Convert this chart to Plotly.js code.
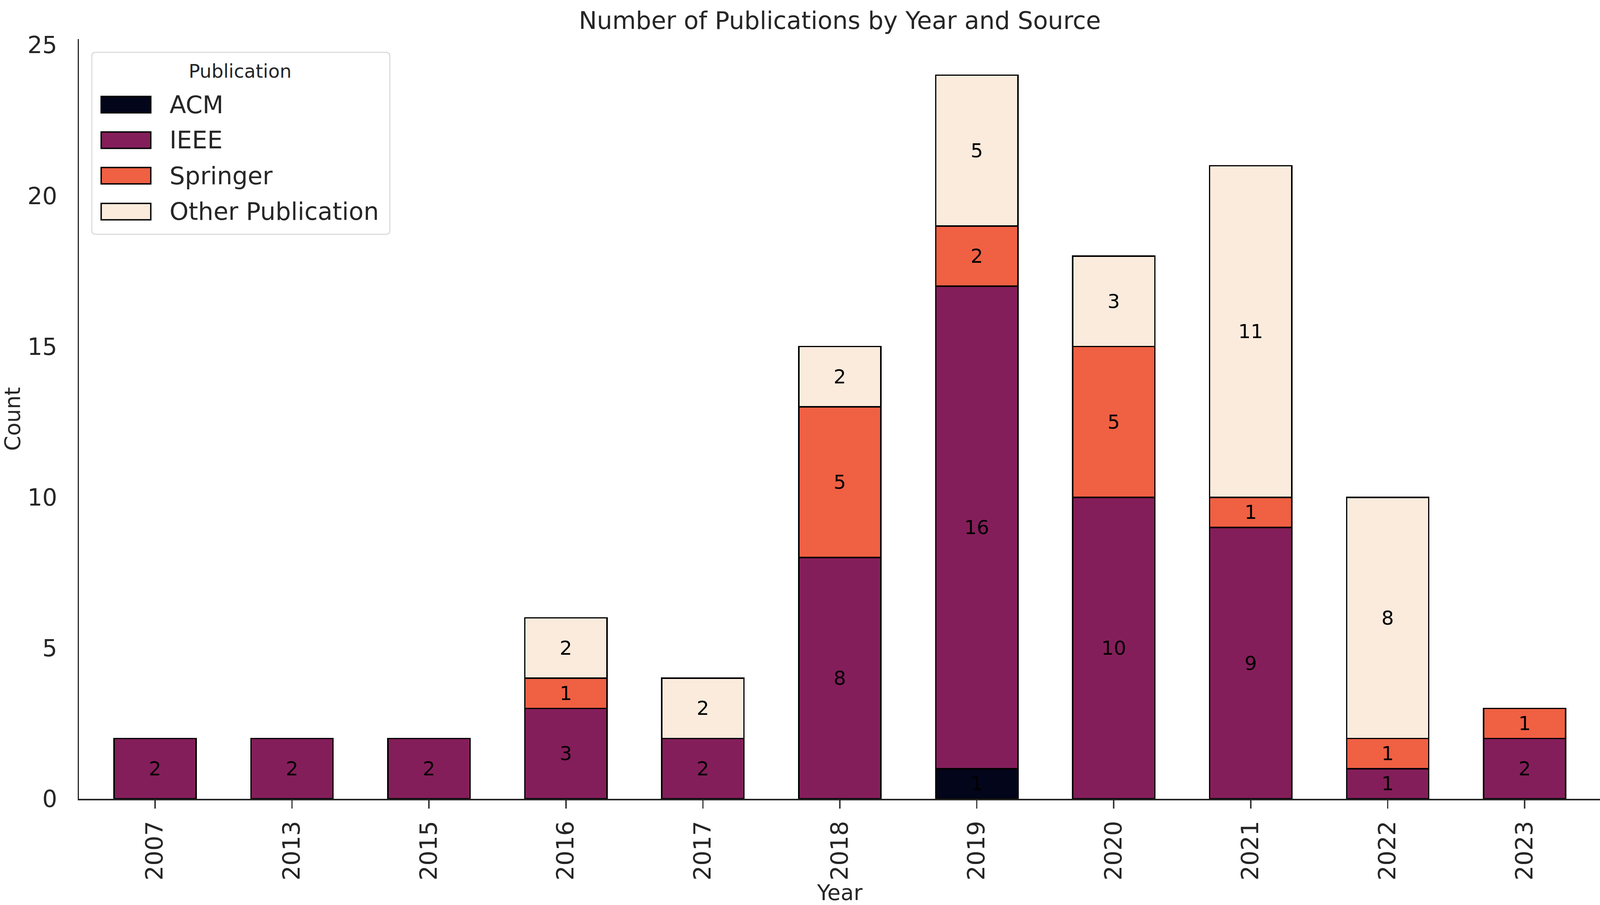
<!DOCTYPE html>
<html>
<head>
<meta charset="utf-8">
<script src="https://cdn.plot.ly/plotly-3.0.1.min.js"></script>
<style>
  html, body { margin: 0; padding: 0; background: #ffffff; }
  #chart { width: 4111px; height: 2318px; }
</style>
</head>
<body>
<div id="chart"></div>
<script>
// ---- Data ----
const years = ["2007", "2013", "2015", "2016", "2017", "2018", "2019", "2020", "2021", "2022", "2023"];
const acm      = [0, 0, 0, 0, 0, 0, 1, 0, 0, 0, 0];
const ieee     = [2, 2, 2, 3, 2, 8, 16, 10, 9, 1, 2];
const springer = [0, 0, 0, 1, 0, 5, 2, 5, 1, 1, 1];
const other    = [0, 0, 0, 2, 2, 2, 5, 3, 11, 8, 0];

const seriesNames  = ["ACM", "IEEE", "Springer", "Other Publication"];
const seriesValues = [acm, ieee, springer, other];
const seriesColors = ["#03051A", "#841E5A", "#F06043", "#FAEBDD"];

const chartTitle = "Number of Publications by Year and Source";
const xTitle = "Year";
const yTitle = "Count";
const legendTitle = "Publication";

// ---- Layout geometry (pixels) ----
const W = 4111, H = 2318;
const M = { l: 202, r: 13, t: 100, b: 272 };
const plotW = W - M.l - M.r, plotH = H - M.t - M.b;
const FONT = "DejaVu Sans, sans-serif";
const TXT = "#262626";

const traces = seriesNames.map((name, i) => ({
  type: "bar",
  name: name,
  x: years,
  y: seriesValues[i].map(v => (v === 0 ? null : v)),
  text: seriesValues[i].map(v => (v === 0 ? "" : String(v))),
  textposition: "inside",
  insidetextanchor: "middle",
  textangle: 0,
  constraintext: "none",
  textfont: { family: FONT, size: 50, color: "#000000" },
  insidetextfont: { family: FONT, size: 50, color: "#000000" },
  width: 0.6,
  marker: { color: seriesColors[i], line: { color: "#000000", width: 3.5 } },
  showlegend: false,
  hoverinfo: "x+y+name"
}));

// ---- Custom legend (matplotlib-like) built from shapes + annotations ----
function px2x(px) { return (px - M.l) / plotW; }
function px2y(py) { return (H - M.b - py) / plotH; }
function roundedRectPath(x0, y0, x1, y1, r) {
  // pixel coordinates -> paper path with quadratic rounded corners
  const X = px2x, Y = px2y;
  return "M" + X(x0 + r) + "," + Y(y0) +
    " L" + X(x1 - r) + "," + Y(y0) +
    " Q" + X(x1) + "," + Y(y0) + " " + X(x1) + "," + Y(y0 + r) +
    " L" + X(x1) + "," + Y(y1 - r) +
    " Q" + X(x1) + "," + Y(y1) + " " + X(x1 - r) + "," + Y(y1) +
    " L" + X(x0 + r) + "," + Y(y1) +
    " Q" + X(x0) + "," + Y(y1) + " " + X(x0) + "," + Y(y1 - r) +
    " L" + X(x0) + "," + Y(y0 + r) +
    " Q" + X(x0) + "," + Y(y0) + " " + X(x0 + r) + "," + Y(y0) + " Z";
}

const shapes = [{
  type: "path", xref: "paper", yref: "paper",
  path: roundedRectPath(235, 134, 998, 600, 10),
  fillcolor: "rgba(255,255,255,0.8)",
  line: { color: "#d6d6d6", width: 2.5 },
  layer: "above"
}];
const annotations = [{
  xref: "paper", yref: "paper", x: px2x(614), y: px2y(182),
  text: legendTitle, showarrow: false, xanchor: "center", yanchor: "middle",
  font: { family: FONT, size: 48, color: TXT }
}];
const rowY = [268, 359, 450, 542];
seriesNames.forEach((name, i) => {
  shapes.push({
    type: "rect", xref: "paper", yref: "paper",
    x0: px2x(259), x1: px2x(386), y0: px2y(rowY[i] - 21), y1: px2y(rowY[i] + 21),
    fillcolor: seriesColors[i], line: { color: "#000000", width: 3.5 }, layer: "above"
  });
  annotations.push({
    xref: "paper", yref: "paper", x: px2x(432), y: px2y(rowY[i]),
    text: name, showarrow: false, xanchor: "left", yanchor: "middle",
    font: { family: FONT, size: 62, color: TXT }
  });
});

const layout = {
  width: W, height: H,
  margin: M,
  paper_bgcolor: "#ffffff",
  plot_bgcolor: "#ffffff",
  barmode: "stack",
  font: { family: FONT, color: TXT },
  title: {
    text: chartTitle,
    font: { family: FONT, size: 62, color: TXT },
    x: 0.5, xref: "paper", xanchor: "center",
    y: 1 - 52 / H, yref: "container", yanchor: "middle"
  },
  xaxis: {
    type: "category",
    range: [-0.556, 10.556],
    showgrid: false, zeroline: false,
    showline: true, linecolor: TXT, linewidth: 3.5,
    ticks: "outside", ticklen: 21, tickwidth: 3.5, tickcolor: "#3a3a3a",
    tickangle: -90,
    tickfont: { family: FONT, size: 60, color: TXT },
    ticklabelstandoff: 8,
    title: { text: xTitle, font: { family: FONT, size: 55, color: TXT }, standoff: 12 },
    automargin: false,
    fixedrange: true
  },
  yaxis: {
    range: [0, 25.2],
    tickmode: "array",
    tickvals: [0, 5, 10, 15, 20, 25],
    ticktext: ["0", "5", "10", "15", "20", "25"],
    showgrid: false, zeroline: false,
    showline: true, linecolor: TXT, linewidth: 3.5,
    ticks: "",
    tickfont: { family: FONT, size: 60, color: TXT },
    ticklabelstandoff: 40,
    title: { text: yTitle, font: { family: FONT, size: 55, color: TXT }, standoff: 30 },
    automargin: false,
    fixedrange: true
  },
  shapes: shapes,
  annotations: annotations
};

Plotly.newPlot("chart", traces, layout, { displayModeBar: false, staticPlot: true });
</script>
</body>
</html>
